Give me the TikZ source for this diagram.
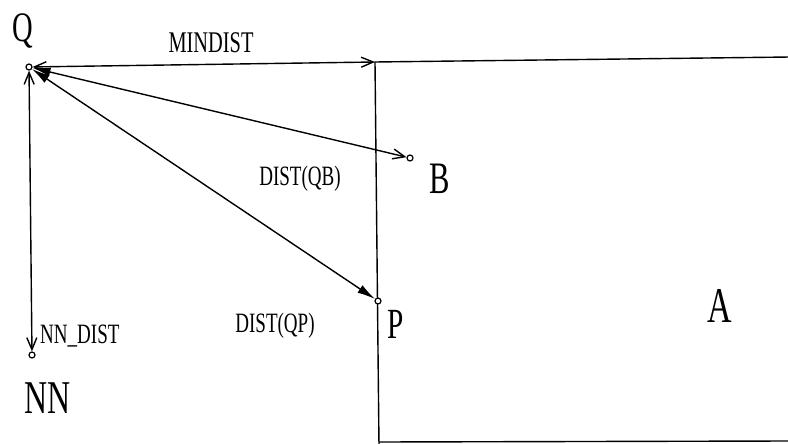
\documentclass[tikz,border=0pt]{standalone}
\usepackage{fontspec}
\setmainfont[FakeStretch=0.68]{Liberation Serif}
\usetikzlibrary{arrows.meta}
\tikzset{
  pt/.style={circle,draw,line width=1.2pt,fill=white,inner sep=0pt,minimum size=6pt},
  ln/.style={line width=1.4pt},
  big/.style={anchor=base,inner sep=0pt},
  small/.style={anchor=base,inner sep=0pt,font=\fontsize{30}{30}\selectfont}
}
\begin{document}
\begin{tikzpicture}[x=1pt,y=-1pt]
\useasboundingbox[fill=white] (0,0) rectangle (788,444);
% rectangle A
\coordinate (C) at (375,62);
\coordinate (TR) at (790,57);
\coordinate (BL) at (379,446);
\coordinate (BLb) at (379,442);
\coordinate (BR) at (790,441);
\draw[ln] (TR) -- (C) -- (BL);
\draw[ln] (BLb) -- (BR);
% points
\node[pt] (Q) at (29,67) {};
\node[pt] (B) at (410,158) {};
\node[pt] (P) at (378,301) {};
\node[pt] (NN) at (32,355) {};
% connectors
\draw[ln,{Straight Barb[length=12pt,width=10pt]}-{Straight Barb[length=12pt,width=10pt]}] (Q) -- (C);
\draw[ln,{Straight Barb[length=12pt,width=10pt]}-{Straight Barb[length=12pt,width=10pt]}] (Q) -- (NN);
\draw[ln,{Latex[length=18pt,width=9pt]}-{Straight Barb[length=12pt,width=10pt]}] (Q) -- (B);
\draw[ln,{Latex[length=18pt,width=9pt]}-{Latex[length=18pt,width=9pt]}] (Q) -- (P);
% labels
\node[big,font=\fontsize{42}{42}\selectfont] (lQ) at (23,42) {Q};
\node[big,font=\fontsize{45}{45}\selectfont] (lB) at (440,193) {B};
\node[big,font=\fontsize{43}{43}\selectfont] (lP) at (396,338) {P};
\node[big,font=\fontsize{47}{47}\selectfont] (lNN) at (48,413) {NN};
\node[big,font=\fontsize{50}{50}\selectfont] (lA) at (720,322) {A};
\node[small] (lmin) at (211,53) {MINDIST};
\node[small,font=\fontsize{28}{28}\selectfont] (lqb) at (300,185) {DIST(QB)};
\node[small,font=\fontsize{28}{28}\selectfont] (lqp) at (275,332) {DIST(QP)};
\node[small,font=\fontsize{28}{28}\selectfont,anchor=base west] (lnn) at (40,343) {NN\_DIST};
\end{tikzpicture}
\end{document}
